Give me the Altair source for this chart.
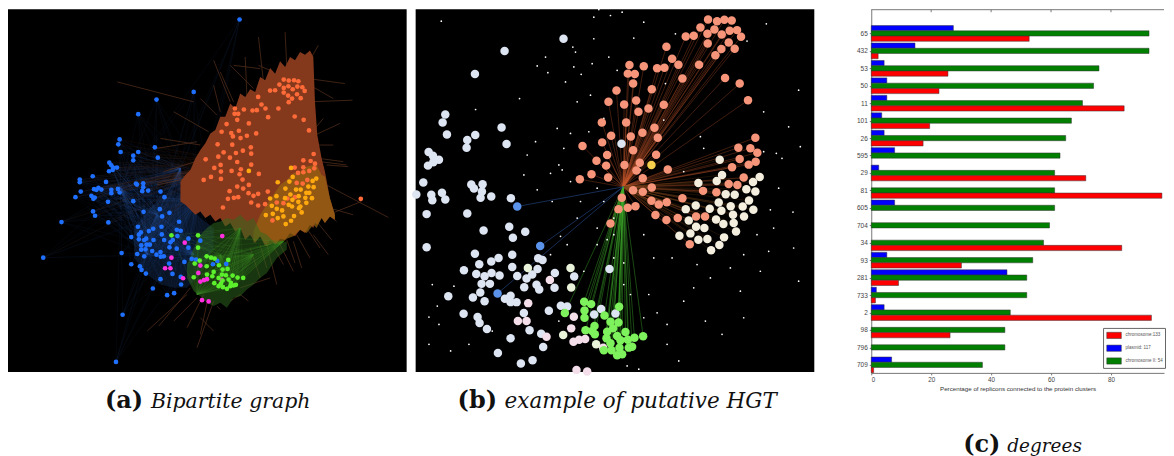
import altair as alt
import pandas as pd

# ---------- bar panel values (percent) ----------
clusters = ["65","432","53","50","11","101","26","595","29","81","605","704","34","93","281","733","2","98","796","709"]
plasmid = [27.4,14.6,4.3,5.2,5.2,3.5,4.3,7.8,2.5,0,7.8,0,0,5.2,45.3,1.7,4.3,0,0,6.8]
chrom2 = [92.7,92.7,76,74.2,70.5,66.8,64.9,63,61.2,61.2,61.2,59.5,57.5,53.9,51.9,51.9,46.4,44.6,44.6,37.1]
chrom1 = [52.7,2.3,25.6,22.6,84.4,19.5,17.3,0,71.6,97,0,0,83.6,30.1,9.1,1.4,93.5,26.3,0,0.8]
series_names = ["chromosome:133","plasmid: 117","chromosome II: 54"]
series_colors = ["#ff0000","#0000ff","#007f00"]

# ---------- network (a) nodes ----------
a_blue = [(718,52),(580,270),(468,293),(413,337),(357,413),(353,428),(360,451),(463,437),(413,451),(398,462),(398,476),(472,468),(326,483),(332,491),(338,499),(349,498),(336,505),(325,509),(276,524),(237,534),(237,542),(316,541),(406,546),(428,545),(409,549),(428,557),(293,559),(280,563),(287,565),(302,564),(332,565),(352,562),(240,570),(332,575),(357,573),(425,569),(443,567),(480,570),(224,587),(272,583),(282,588),(278,592),(492,587),(322,601),(398,599),(277,630),(283,643),(429,631),(478,623),(485,645),(507,634),(182,662),(323,663),(127,769),(536,661),(412,676),(483,676),(458,682),(445,689),(421,693),(415,700),(392,707),(529,685),(541,688),(484,699),(531,704),(491,716),(517,716),(415,714),(431,716),(437,712),(459,716),(510,723),(422,732),(438,730),(448,730),(422,745),(435,744),(507,738),(529,742),(564,712),(600,718),(564,739),(410,758),(455,749),(468,760),(480,752),(481,766),(490,765),(431,765),(363,755),(392,789),(418,795),(423,806),(436,817),(516,818),(480,834),(541,827),(542,850),(457,862),(500,882),(521,876),(366,941),(346,1083),(552,782),(574,773),(587,775),(638,789),(651,779),(678,788),(506,787)]
a_orange = [(851,233),(866,236),(882,235),(895,238),(838,248),(851,258),(865,253),(878,262),(892,254),(907,256),(914,267),(810,266),(825,265),(851,272),(864,281),(891,277),(876,290),(902,289),(866,301),(774,285),(784,308),(796,320),(704,320),(731,323),(757,326),(770,325),(835,320),(703,336),(714,336),(711,354),(804,346),(884,344),(911,354),(679,367),(746,365),(664,390),(693,394),(716,387),(698,404),(721,409),(740,402),(768,395),(927,386),(652,428),(696,429),(752,437),(728,447),(707,454),(670,452),(654,465),(689,468),(753,456),(616,473),(711,481),(661,490),(753,489),(642,499),(662,510),(694,508),(722,503),(718,518),(727,534),(632,526),(610,535),(662,532),(776,517),(941,457),(932,478),(910,476),(945,486),(884,498),(910,497),(943,500),(928,508),(910,512),(894,514),(890,544),(908,546),(922,535),(711,555),(729,561),(746,550),(688,569),(714,587),(701,589),(683,592),(745,575),(760,583),(774,577),(753,603),(795,608),(774,612),(668,618),(803,570),(830,603),(850,605),(817,657),(885,587),(862,591),(1083,592)]
a_yellow = [(746,508),(873,499),(878,526),(868,540),(833,542),(949,531),(938,538),(925,555),(941,557),(888,564),(902,564),(856,561),(919,574),(928,574),(829,584),(810,591),(855,590),(871,579),(877,595),(896,584),(895,601),(916,589),(936,590),(815,613),(830,622),(846,627),(866,610),(876,615),(901,615),(919,604),(897,620),(905,633),(797,641),(818,637),(833,650),(850,645),(882,644),(873,658),(857,668)]
a_green = [(513,702),(593,702),(593,739),(619,765),(632,769),(643,772),(598,778),(583,787),(619,795),(656,792),(684,776),(667,805),(682,803),(640,812),(620,820),(636,825),(665,820),(580,828),(655,830),(677,822),(697,823),(712,829),(729,830),(642,846),(655,855),(667,838),(685,835),(692,845),(707,851),(662,847),(680,863),(690,855),(700,853),(668,858)]
a_magenta = [(666,704),(553,724),(513,769),(494,801),(510,801),(600,793),(594,815),(548,831),(620,834),(600,841),(611,837),(605,897),(625,901),(664,836)]

# dense edge mass outline: x, upper edge, lower edge (frayed, as in the picture)
mass_x = [540,555,570,585,600,615,630,645,660,675,690,705,720,735,750,765,780,795,810,825,840,855,870,885,900,915,930,940,945,952,965,975,990,1005]
mass_top = [540,520,505,470,445,425,395,385,345,345,305,320,275,285,262,270,225,235,198,215,178,195,165,175,150,158,145,165,300,400,470,510,590,640]
mass_bot = [600,610,625,640,630,650,640,660,650,675,665,690,680,715,700,725,705,735,715,730,712,715,695,705,685,695,670,680,665,670,650,665,645,655]
amber_x = [760,780,800,820,840,860,880,900,920,940,950,965,975,990,1005]
amber_top = [690,640,610,580,550,535,515,510,495,490,490,520,525,590,640]
amber_bot = [725,705,735,725,730,712,705,685,695,670,680,650,665,645,655]
green_x = [560,580,600,620,640,660,680,700,720,740,760,780,800,830,860]
green_top = [790,740,700,680,665,660,650,655,640,660,650,690,700,730,720]
green_bot = [830,870,885,905,915,905,920,890,885,865,850,830,815,770,745]
blue_x = [400,440,480,520,560,600,640]
blue_top = [680,630,590,590,610,650,680]
blue_bot = [770,820,850,860,860,820,740]
# hair-like edges sticking out of the mass: start x, start y, tip x, tip y
a_spikes = [(790,240,775,105),(860,190,855,90),(690,300,640,175),(650,340,600,290),(925,230,1035,245),(925,300,1058,295),(945,400,1020,365),(980,490,1045,495),(960,540,1166,648),(985,640,1085,600),(940,700,985,760),(880,720,905,800),(840,730,880,810),(800,730,830,850),(720,860,810,830),(610,880,560,980),(640,900,590,1040),(560,880,440,990),(580,300,350,240),(590,420,470,440),(560,530,470,550),(700,190,780,200),(935,165,955,130),(820,210,775,190),(600,950,640,990),(740,280,735,165),(760,260,690,190),(700,300,660,210),(660,330,640,250),(625,390,520,330),(600,430,480,410),(585,480,490,510),(570,520,470,545),(955,470,1030,480),(960,480,1040,490),(985,640,1010,660),(990,620,1060,640),(950,660,995,715),(920,680,960,740),(890,700,930,770),(860,715,885,785),(820,735,850,790),(780,730,800,800),(750,740,780,830),(720,880,745,900),(690,900,720,880),(650,915,660,925),(620,905,600,1000),(590,890,520,960),(570,860,475,975),(930,250,1000,290),(945,380,970,350),(945,430,1000,430)]
a_hubs_orange = [(800,430),(860,300),(700,480),(840,600),(760,300),(650,520)]
a_hubs_blue = [(470,640),(360,560),(590,600),(620,520),(540,500),(440,760),(580,760)]
a_hubs_green = [(660,760),(720,680),(760,760),(590,880),(850,720)]

# ---------- network (b) nodes ----------
b_orange = [(893,52),(920,57),(942,53),(964,55),(870,76),(912,82),(958,86),(980,84),(850,101),(826,103),(891,95),(934,97),(992,104),(892,124),(955,121),(933,141),(973,140),(915,160),(768,134),(785,170),(804,188),(657,189),(700,193),(740,199),(762,197),(866,188),(652,215),(673,216),(668,245),(816,230),(944,228),(988,245),(618,266),(724,262),(594,300),(641,308),(677,296),(684,330),(714,320),(760,309),(1013,295),(574,362),(647,362),(732,378),(696,393),(661,404),(602,402),(742,408),(575,422),(668,446),(737,459),(516,433),(688,483),(558,477),(590,460),(587,492),(642,490),(678,507),(543,518),(593,528),(508,533),(697,530),(772,504),(1035,408),(984,438),(1020,440),(1041,453),(988,472),(1036,480),(1015,489),(965,497),(1000,528),(955,547),(981,550),(878,568),(918,572),(724,558),(668,566),(697,571),(816,590),(723,598),(745,609),(769,602),(634,589),(624,623),(652,619),(675,614),(600,666),(735,641),(768,656),(802,650),(857,645),(884,645),(838,729)]
b_cream = [(928,474),(935,520),(919,538),(864,544),(1048,526),(1028,541),(1008,563),(1035,570),(946,578),(973,580),(925,603),(1016,597),(961,614),(997,615),(826,623),(856,612),(898,622),(933,628),(1029,625),(968,640),(1001,645),(917,654),(835,657),(939,668),(970,665),(857,676),(882,680),(977,690),(840,696),(807,703),(864,715),(891,713),(941,708),(927,731),(902,747)]
b_pale = [(633,426),(459,110),(282,147),(193,216),(104,338),(96,362),(109,398),(194,400),(273,377),(170,415),(168,438),(288,427),(54,451),(67,462),(85,474),(52,492),(68,482),(38,543),(182,549),(216,548),(190,561),(17,579),(62,580),(94,574),(214,570),(242,585),(210,589),(65,596),(104,594),(301,590),(48,638),(170,636),(219,687),(296,676),(344,691),(307,709),(48,738),(193,757),(264,770),(242,781),(305,760),(383,771),(396,776),(206,789),(305,797),(381,803),(160,807),(197,818),(243,815),(222,825),(267,823),(320,824),(365,820),(348,832),(433,815),(213,848),(238,848),(378,851),(341,858),(386,865),(432,860),(113,885),(187,889),(209,874),(222,900),(283,893),(300,884),(318,903),(300,903),(415,929),(340,936),(159,938),(201,948),(207,966),(229,984),(357,988),(392,998),(300,1012),(398,1038),(262,1056),(366,1078),(331,1088),(491,826),(451,914),(470,916),(572,924),(615,937),(551,940),(597,803)]
b_pink = [(418,836),(353,906),(322,960),(348,960),(490,947),(482,982),(408,1007),(489,1022),(506,1016),(524,1014),(578,1040),(498,1107),(530,1112)]
b_mint = [(352,800),(480,800),(482,859),(458,1002),(557,1030)]
b_hilite = [(320,615),(389,734),(261,877)]
b_yellow = [(723,490)]
b_green = [(521,902),(542,909),(626,917),(463,936),(522,928),(522,950),(582,943),(600,962),(624,964),(525,988),(552,975),(553,1000),(608,982),(590,992),(645,993),(588,1012),(620,1005),(672,1010),(698,1006),(600,1027),(630,1018),(652,1016),(580,1048),(603,1048),(627,1040),(665,1037),(620,1063),(635,1060),(655,1040),(545,990)]
b_specks = [(92,57),(550,45),(600,40),(635,30),(565,22),(1068,65),(795,95),(700,60),(550,110),(670,108),(487,135),(495,150),(405,165),(380,192),(412,212),(465,240),(490,195),(512,217),(545,185),(595,165),(620,205),(540,280),(327,290),(195,323),(1165,265),(1060,330),(1135,375),(375,420),(440,380),(480,395),(535,390),(350,460),(445,490),(455,505),(420,515),(380,565),(480,540),(560,560),(510,600),(580,600),(610,650),(1170,435),(1098,455),(1115,470),(1060,450),(1080,625),(1148,632),(1090,680),(1150,740),(1000,760),(960,800),(1075,750),(860,790),(785,770),(700,700),(560,680),(500,650),(450,705),(420,760),(10,700),(65,850),(130,855),(80,915),(55,948),(85,970),(55,1030),(120,1050),(245,990),(175,1030),(445,960),(770,970),(885,960),(770,1030),(820,900),(1000,950),(900,830),(1050,810),(990,870),(935,1000),(805,1080),(685,1105),(650,1095),(520,810),(640,785),(610,770),(560,730),(470,730),(640,850),(715,880),(740,935),(700,950),(660,880),(590,715),(765,245),(690,505),(1010,117),(1165,840),(1040,700),(880,440),(820,510),(870,405),(760,355),(1105,560),(850,860),(610,700),(730,770),(580,350),(500,300),(460,440),(425,600),(340,520)]
b_hub = [(638,556)]


def edges(nodes, hubs):
    return pd.DataFrame([{"x": n[0], "y": n[1], "x2": h[0], "y2": h[1]} for n in nodes for h in hubs])


def pts(nodes):
    return pd.DataFrame(nodes, columns=["x", "y"])


def caption(txt, px, py, style, weight, size):
    font = "DejaVu Serif"
    return alt.Chart(pd.DataFrame({"t": [txt]})).mark_text(
        align="left", baseline="alphabetic", font=font, fontStyle=style, fontWeight=weight,
        fontSize=size, color="#111111").encode(x=alt.value(px), y=alt.value(py), text="t:N")


def panel(width, height, xdom, ydom, layers, captions):
    xs = alt.Scale(domain=xdom, nice=False, zero=False)
    ys = alt.Scale(domain=ydom, nice=False, zero=False)
    X = alt.X("x:Q", scale=xs, axis=None)
    Y = alt.Y("y:Q", scale=ys, axis=None)
    out = []
    for kind, df, color, opts in layers:
        if kind == "area":
            out.append(alt.Chart(df).mark_area(color=color, **opts).encode(x=X, y=Y, y2="y2:Q"))
        elif kind == "rule":
            out.append(alt.Chart(df).mark_rule(color=color, **opts).encode(x=X, y=Y, x2="x2:Q", y2="y2:Q"))
        else:
            out.append(alt.Chart(df).mark_circle(color=color, opacity=1, **opts).encode(x=X, y=Y))
    for args in captions:
        out.append(caption(*args))
    return alt.layer(*out).properties(
        width=width, height=height,
        view=alt.ViewConfig(fill="black", stroke=None))


def band(xs, tops, bots):
    return pd.DataFrame({"x": xs, "y": tops, "y2": bots})


panel_a = panel(399, 363, [21, 1221], [1113, 21], [
    ("rule", edges(a_blue, a_hubs_blue), "#2a5fae", {"opacity": 0.11, "strokeWidth": 0.6}),
    ("area", band(blue_x, blue_top, blue_bot), "#1f3f74", {"opacity": 0.3}),
    ("rule", edges(a_blue[4:60], a_hubs_orange[2:3]), "#6d3a20", {"opacity": 0.22, "strokeWidth": 0.5}),
    ("rule", pd.DataFrame(a_spikes, columns=["x", "y", "x2", "y2"]), "#55301c", {"opacity": 0.9, "strokeWidth": 0.8}),
    ("area", band(mass_x, mass_top, mass_bot), "#85391c", {}),
    ("area", band(amber_x, amber_top, amber_bot), "#96640f", {"opacity": 0.7}),
    ("area", band(green_x, green_top, green_bot), "#2f6b1d", {"opacity": 0.5}),
    ("rule", edges(a_green, a_hubs_green), "#3c8a26", {"opacity": 0.3, "strokeWidth": 0.6}),
    ("point", pts(a_orange), "#ff6a39", {"size": 22}),
    ("point", pts(a_yellow), "#ffa90f", {"size": 22}),
    ("point", pts(a_blue), "#1f70ff", {"size": 22}),
    ("point", pts(a_magenta), "#ff2fe0", {"size": 22}),
    ("point", pts(a_green), "#5cf02c", {"size": 22}),
], [("(a)", 97, 399, "normal", "bold", 24),
    ("Bipartite graph", 143, 399, "italic", "normal", 20.5)])

panel_b = panel(399, 363, [15, 1212], [1113, 21], [
    ("rule", edges(b_orange, b_hub), "#c4552c", {"opacity": 0.55, "strokeWidth": 0.6}),
    ("rule", edges(b_cream, b_hub), "#7a4a18", {"opacity": 0.4, "strokeWidth": 0.6}),
    ("rule", edges(b_green, b_hub), "#3fae2c", {"opacity": 0.6, "strokeWidth": 0.7}),
    ("rule", edges(b_hilite, b_hub), "#2a4f96", {"opacity": 0.8, "strokeWidth": 0.7}),
    ("point", pts(b_specks), "#ffffff", {"size": 3}),
    ("point", pts(b_orange), "#f7957a", {"size": 72}),
    ("point", pts(b_cream), "#f3eedd", {"size": 72}),
    ("point", pts(b_pale), "#dde5f3", {"size": 72}),
    ("point", pts(b_pink), "#f3deea", {"size": 72}),
    ("point", pts(b_mint), "#e8f3da", {"size": 72}),
    ("point", pts(b_hilite), "#5b93ea", {"size": 72}),
    ("point", pts(b_yellow), "#f4cf4e", {"size": 72}),
    ("point", pts(b_green), "#7ef25c", {"size": 72}),
], [("(b)", 42, 399, "normal", "bold", 24),
    ("example of putative HGT", 89, 399, "italic", "normal", 21.5)])

# ---------- bar panel ----------
rows = []
bar_h = 0.30
for i, c in enumerate(clusters):
    for name, vals, off in [(series_names[1], plasmid, -1), (series_names[2], chrom2, 0), (series_names[0], chrom1, 1)]:
        if vals[i] > 0:
            mid = i + off * bar_h
            rows.append({"cluster": c, "series": name, "value": vals[i], "zero": 0,
                         "y": mid - bar_h / 2, "y2": mid + bar_h / 2})
bars = pd.DataFrame(rows)

label_expr = "[" + ",".join(f"'{c}'" for c in clusters) + "][datum.value]"
xs_c = alt.Scale(domain=[0, 97.7], nice=False, zero=True)
ys_c = alt.Scale(domain=[-1.39, 19.46], nice=False, zero=False, reverse=True)
c_w, c_h = 293, 364
top_ticks = [20, 40, 60, 80]
x_axis = alt.Axis(
    values=[0, 20, 40, 60, 80], grid=False, tickSize=2, labelFontSize=6.3, labelColor="#444444",
    labelFont="Liberation Sans", labelPadding=2, domainColor="#777777", tickColor="#777777",
    title="Percentage of replicons connected to the protein clusters",
    titleFontSize=6.2, titleFontWeight="normal", titleColor="#333333", titleFont="Liberation Sans", titlePadding=2)

bar_layer = alt.Chart(bars).mark_rect(stroke="#333333", strokeWidth=0.5).encode(
    x=alt.X("value:Q", scale=xs_c, axis=x_axis),
    x2="zero:Q",
    y=alt.Y("y:Q", scale=ys_c, axis=alt.Axis(
        values=list(range(20)), labelExpr=label_expr, grid=False, tickSize=2, labelFontSize=6.5,
        labelColor="#444444", labelFont="Liberation Sans", labelPadding=2, domainColor="#777777", tickColor="#777777",
        title=None)),
    y2="y2:Q",
    color=alt.Color("series:N", scale=alt.Scale(domain=series_names, range=series_colors), legend=alt.Legend(
        orient="none", legendX=232, legendY=319, title=None, fillColor="white", strokeColor="#666666",
        padding=2, symbolType="M-1.4,-0.6H1.4V0.6H-1.4Z", symbolSize=108, symbolOffset=3.5,
        symbolStrokeColor="#333333", symbolStrokeWidth=0.5,
        labelFontSize=4.5, labelColor="#555555", labelFont="Liberation Sans", rowPadding=2.8, labelOffset=6)),
)
top_line = alt.Chart(pd.DataFrame({"t": [0]})).mark_rule(color="#777777").encode(
    x=alt.value(0), x2=alt.value(c_w), y=alt.value(0.5))
top_tick_layer = alt.Chart(pd.DataFrame({"value": top_ticks})).mark_rule(color="#777777").encode(
    x=alt.X("value:Q", scale=xs_c, axis=x_axis), y=alt.value(0.5), y2=alt.value(3))
panel_c = alt.layer(
    bar_layer, top_line, top_tick_layer,
    caption("(c)", 92, 443, "normal", "bold", 24),
    caption("degrees", 136, 443, "italic", "normal", 18.5),
).properties(width=c_w, height=c_h, view=alt.ViewConfig(stroke=None))

chart = alt.hconcat(
    alt.hconcat(panel_a, panel_b, spacing=5),
    panel_c, spacing=42,
).properties(padding=0).resolve_scale(color="independent").configure_view(stroke=None)

chart.save("out.html", embed_options={"renderer": "svg", "actions": False})
